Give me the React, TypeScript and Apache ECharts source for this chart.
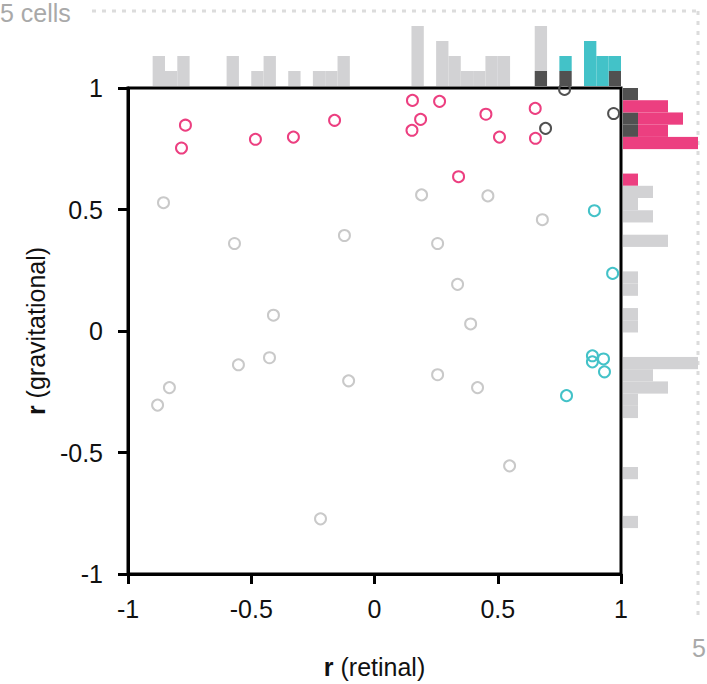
import React, { useEffect, useRef } from "react";
import * as echarts from "echarts";

// ---- data (correlation r values) ----
// not significant in either frame
const grayX = [-0.856, -0.568, -0.122, -0.41, 0.191, 0.46, 0.681, 0.256, 0.337, 0.39, -0.426, -0.552, -0.832, -0.88, -0.105, 0.256, 0.418, 0.548, -0.219];
const grayY = [0.528, 0.36, 0.393, 0.065, 0.56, 0.556, 0.458, 0.36, 0.192, 0.029, -0.11, -0.139, -0.233, -0.305, -0.205, -0.18, -0.233, -0.555, -0.773];
// gravitational-tuned
const pinkX = [-0.767, -0.783, -0.483, -0.329, -0.162, 0.154, 0.264, 0.187, 0.152, 0.452, 0.652, 0.507, 0.653, 0.341];
const pinkY = [0.847, 0.753, 0.789, 0.798, 0.867, 0.949, 0.945, 0.871, 0.826, 0.892, 0.916, 0.798, 0.793, 0.635];
// retinal-tuned
const tealX = [0.892, 0.966, 0.884, 0.884, 0.929, 0.933, 0.779];
const tealY = [0.495, 0.237, -0.102, -0.127, -0.115, -0.168, -0.266];
// tuned in both
const darkX = [0.771, 0.694, 0.97];
const darkY = [0.994, 0.834, 0.895];

const axisTicks = [-1, -0.5, 0, 0.5, 1];
const BIN = 0.05;
const MAX_CELLS = 5;

const FONT = '"Liberation Sans", Arial, Helvetica, sans-serif';
const C_GRAY_PT = "#c9c9c9";
const C_GRAY_HIST = "#d2d2d4";
const C_PINK = "#ec3f80";
const C_TEAL = "#43c2c8";
const C_DARK = "#515151";

// layout
const MAIN = { left: 128, top: 88, width: 493, height: 489 };
const TOP_HIST = { left: 128, top: 11, width: 493, height: 75 };
const RIGHT_HIST = { left: 623, top: 88, width: 75, height: 489 };

type Group = { values: number[]; color: string }[];

// stack cells per bin: groups in order (base first)
function histCells(groups: Group) {
  const counts: Record<number, number> = {};
  const cells: number[][] = [];
  const colors: string[] = [];
  groups.forEach((g) => {
    g.values.forEach((v) => {
      const k = Math.floor((v - axisTicks[0]) / BIN + 1e-9);
      const s0 = counts[k] || 0;
      counts[k] = s0 + 1;
      const lo = axisTicks[0] + k * BIN;
      cells.push([lo, lo + BIN, s0, s0 + 1, colors.length]);
      colors.push(g.color);
    });
  });
  return { cells, colors };
}

export default function App() {
  const ref = useRef<HTMLDivElement>(null);
  useEffect(() => {
    const chart = echarts.init(ref.current!, null, { renderer: "svg" });

    const topH = histCells([
      { values: darkX, color: C_DARK },
      { values: tealX, color: C_TEAL },
      { values: grayX.concat(pinkX), color: C_GRAY_HIST },
    ]);
    const rightH = histCells([
      { values: darkY, color: C_DARK },
      { values: pinkY, color: C_PINK },
      { values: grayY.concat(tealY), color: C_GRAY_HIST },
    ]);

    const zip = (xs: number[], ys: number[]) => xs.map((x, i) => [x, ys[i]]);
    const scatter = (name: string, xs: number[], ys: number[], color: string, z: number) => ({
      name,
      type: "scatter",
      xAxisIndex: 0,
      yAxisIndex: 0,
      data: zip(xs, ys),
      symbol: "circle",
      symbolSize: 11,
      z,
      itemStyle: { color: "rgba(0,0,0,0)", borderColor: color, borderWidth: 2, opacity: 1 },
      emphasis: { disabled: true },
    });

    const labelStyle = { fontSize: 25, color: "#111", fontFamily: FONT };
    const axisLine = { show: true, onZero: false, lineStyle: { color: "#000", width: 3 } };
    const axisTick = { show: true, length: 10, lineStyle: { color: "#000", width: 3 } };

    const cellsX5 = RIGHT_HIST.left + RIGHT_HIST.width;
    const cellsY5 = TOP_HIST.top;

    chart.setOption({
      animation: false,
      backgroundColor: "#fff",
      grid: [
        { ...MAIN, show: true, borderColor: "#000", borderWidth: 3, backgroundColor: "transparent" },
        { ...TOP_HIST },
        { ...RIGHT_HIST },
      ],
      xAxis: [
        {
          gridIndex: 0,
          type: "value",
          min: axisTicks[0],
          max: axisTicks[axisTicks.length - 1],
          interval: 0.5,
          splitLine: { show: false },
          axisLine,
          axisTick,
          axisLabel: { ...labelStyle, margin: 22, showMinLabel: true, showMaxLabel: true },
          name: "{b|r} (retinal)",
          nameLocation: "middle",
          nameGap: 80,
          nameTextStyle: {
            ...labelStyle,
            rich: { b: { fontSize: 25, fontWeight: "bold", color: "#111", fontFamily: FONT } },
          },
        },
        { gridIndex: 1, type: "value", min: -1, max: 1, show: false },
        { gridIndex: 2, type: "value", min: 0, max: MAX_CELLS, show: false },
      ],
      yAxis: [
        {
          gridIndex: 0,
          type: "value",
          min: axisTicks[0],
          max: axisTicks[axisTicks.length - 1],
          interval: 0.5,
          splitLine: { show: false },
          axisLine,
          axisTick,
          axisLabel: { ...labelStyle, margin: 25, showMinLabel: true, showMaxLabel: true },
          name: "{b|r} (gravitational)",
          nameLocation: "middle",
          nameGap: 80,
          nameRotate: 90,
          nameTextStyle: {
            ...labelStyle,
            rich: { b: { fontSize: 25, fontWeight: "bold", color: "#111", fontFamily: FONT } },
          },
        },
        { gridIndex: 1, type: "value", min: 0, max: MAX_CELLS, show: false },
        { gridIndex: 2, type: "value", min: -1, max: 1, show: false },
      ],
      graphic: [
        {
          type: "text",
          left: 0,
          top: 0,
          style: { text: MAX_CELLS + " cells", fontSize: 25, fill: "#a9a9a9", fontFamily: FONT },
        },
        {
          type: "line",
          shape: { x1: 92, y1: cellsY5, x2: cellsX5, y2: cellsY5 },
          style: { stroke: "#dcdcdc", lineWidth: 3, lineDash: [4, 6] },
          z: -1,
        },
        {
          type: "line",
          shape: { x1: cellsX5, y1: cellsY5, x2: cellsX5, y2: 618 },
          style: { stroke: "#dcdcdc", lineWidth: 3, lineDash: [4, 6] },
          z: -1,
        },
        {
          type: "text",
          x: cellsX5 + 1,
          y: 648,
          style: {
            text: String(MAX_CELLS),
            fontSize: 25,
            fill: "#a9a9a9",
            fontFamily: FONT,
            align: "center",
            verticalAlign: "middle",
          },
        },
      ],
      series: [
        {
          type: "custom",
          xAxisIndex: 1,
          yAxisIndex: 1,
          data: topH.cells,
          encode: { x: [0, 1], y: [2, 3] },
          renderItem: (params: any, api: any) => {
            const a = api.coord([api.value(0), api.value(2)]);
            const b = api.coord([api.value(1), api.value(3)]);
            return {
              type: "rect",
              shape: { x: a[0], y: b[1], width: b[0] - a[0], height: a[1] - b[1] },
              style: { fill: topH.colors[api.value(4)] },
            };
          },
          silent: true,
        },
        {
          type: "custom",
          xAxisIndex: 2,
          yAxisIndex: 2,
          data: rightH.cells.map((c) => [c[2], c[3], c[0], c[1], c[4]]),
          encode: { x: [0, 1], y: [2, 3] },
          renderItem: (params: any, api: any) => {
            const a = api.coord([api.value(0), api.value(2)]);
            const b = api.coord([api.value(1), api.value(3)]);
            return {
              type: "rect",
              shape: { x: a[0], y: b[1], width: b[0] - a[0], height: a[1] - b[1] },
              style: { fill: rightH.colors[api.value(4)] },
            };
          },
          silent: true,
        },
        scatter("not tuned", grayX, grayY, C_GRAY_PT, 2),
        scatter("gravitational", pinkX, pinkY, C_PINK, 3),
        scatter("retinal", tealX, tealY, C_TEAL, 3),
        scatter("both", darkX, darkY, C_DARK, 4),
      ],
    });
    return () => chart.dispose();
  }, []);
  return <div ref={ref} style={{ position: "fixed", left: 0, top: 0, width: 707, height: 684 }} />;
}
